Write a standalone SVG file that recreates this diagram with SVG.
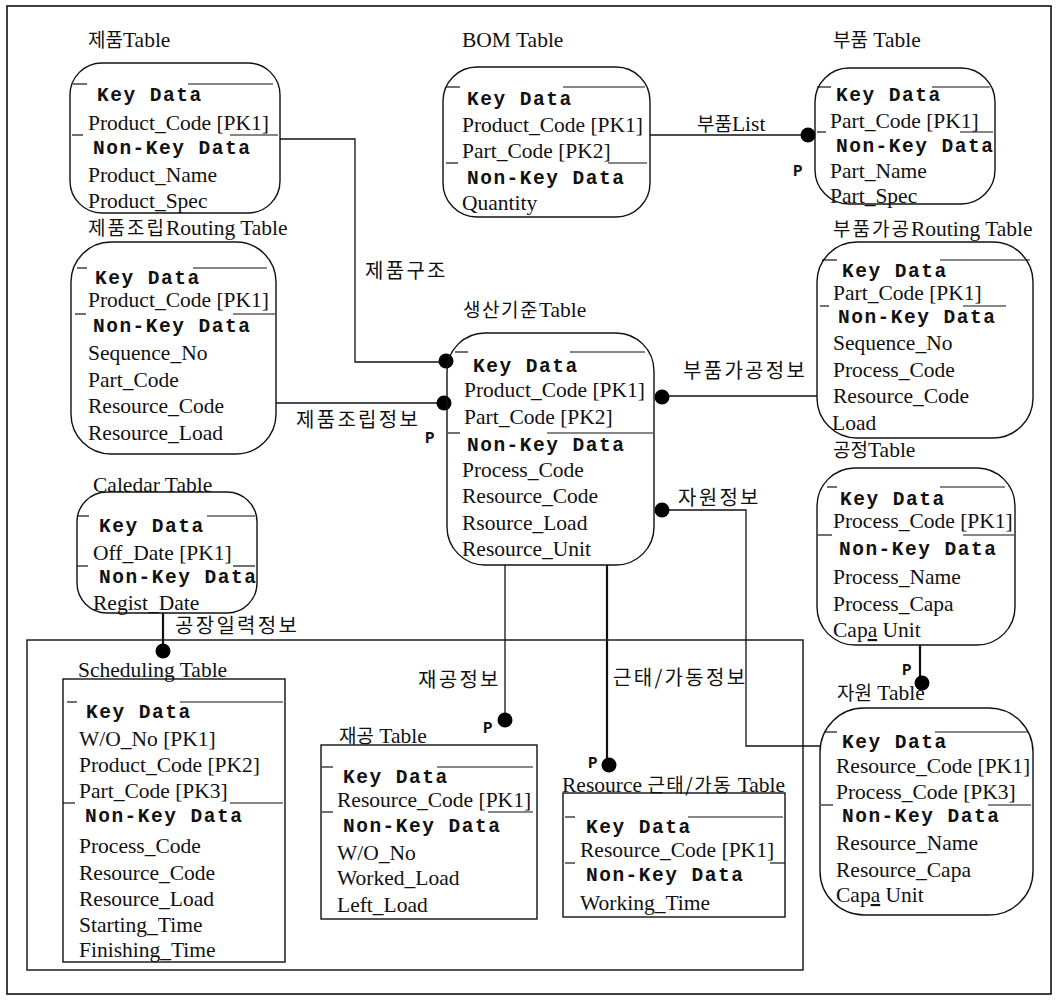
<svg xmlns="http://www.w3.org/2000/svg" width="1059" height="1003" viewBox="0 0 1059 1003">
  <style>
    .frame{fill:none;stroke:#111;stroke-width:1.6}
    .box{fill:none;stroke:#111;stroke-width:1.4}
    .rule{stroke:#111;stroke-width:1.2}
    .t{font-family:"Liberation Serif","Noto Sans CJK KR",serif;font-size:21.5px;fill:#111}
    .k{font-family:"Liberation Mono","Noto Sans CJK KR",monospace;font-weight:bold;font-size:19.5px;letter-spacing:1.5px;fill:#111}
    .ko{font-family:"Noto Sans CJK KR",sans-serif;font-size:19px}
    .lbl{font-family:"Noto Sans CJK KR",sans-serif;font-size:20px;letter-spacing:2.3px;fill:#111}
    .p{font-family:"Liberation Mono",monospace;font-weight:bold;font-size:16px;fill:#111}
    .wire{fill:none;stroke:#111;stroke-width:1.3}
    .wire2{fill:none;stroke:#111;stroke-width:2.2}
    .dot{fill:#000}
    .ul{text-decoration:underline}
  </style>

  <!-- page border -->
  <rect class="frame" x="7" y="6" width="1044" height="988"/>

  <!-- scheduling area boundary -->
  <g id="scheduling-area">
    <rect class="box" x="27" y="640" width="776" height="330"/>
  </g>

  <!-- connectors -->
  <g id="connectors">
    <!-- 제품구조 -->
    <polyline class="wire" points="280,139 355,139 355,362 447,362"/>
    <circle class="dot" cx="446" cy="361" r="7.5"/>
    <text class="lbl" x="365" y="278">제품구조</text>

    <!-- 제품조립정보 -->
    <line class="wire" x1="276" y1="403" x2="444" y2="403"/>
    <circle class="dot" cx="444" cy="403" r="7.5"/>
    <text class="lbl" x="296" y="427">제품조립정보</text>
    <text class="p" x="425" y="443">P</text>

    <!-- 부품List -->
    <line class="wire" x1="650" y1="135" x2="808" y2="135"/>
    <circle class="dot" cx="808" cy="135" r="7.5"/>
    <text class="t" x="697" y="131"><tspan class="ko">부품</tspan>List</text>
    <text class="p" x="793" y="176">P</text>

    <!-- 부품가공정보 -->
    <line class="wire" x1="662" y1="396" x2="817" y2="396"/>
    <circle class="dot" cx="662" cy="397" r="7.5"/>
    <text class="lbl" x="683" y="378">부품가공정보</text>

    <!-- 자원정보 -->
    <polyline class="wire" points="662,510 746,510 746,746 820,746"/>
    <circle class="dot" cx="662" cy="510" r="7.5"/>
    <text class="lbl" x="678" y="505">자원정보</text>

    <!-- 재공정보 -->
    <line class="wire" x1="505" y1="565" x2="505" y2="720"/>
    <circle class="dot" cx="505" cy="720" r="7.5"/>
    <text class="lbl" x="418" y="687">재공정보</text>
    <text class="p" x="483" y="733">P</text>

    <!-- 근태/가동정보 -->
    <line class="wire2" x1="607" y1="565" x2="607" y2="765"/>
    <circle class="dot" cx="609" cy="765" r="7.5"/>
    <text class="lbl" x="613" y="685">근태/가동정보</text>
    <text class="p" x="588" y="768">P</text>

    <!-- 공정 to 자원 -->
    <line class="wire2" x1="920" y1="645" x2="920" y2="683"/>
    <text class="p" x="902" y="675">P</text>
    <circle class="dot" cx="922" cy="683" r="7.5"/>

    <!-- 공장일력정보 -->
    <line class="wire2" x1="163" y1="613" x2="163" y2="651"/>
    <circle class="dot" cx="163" cy="651" r="7.5"/>
    <text class="lbl" x="175" y="633">공장일력정보</text>
  </g>

  <!-- 제품Table -->
  <g id="product-table">
    <text class="t" x="88" y="47"><tspan class="ko">제품</tspan>Table</text>
    <rect class="box" x="70" y="63" width="210" height="150" rx="32"/>
    <line class="rule" x1="73" y1="84" x2="87" y2="84"/>
    <line class="rule" x1="188" y1="84" x2="273" y2="84"/>
    <line class="rule" x1="72" y1="135" x2="83" y2="135"/>
    <line class="rule" x1="230" y1="135" x2="278" y2="135"/>
    <text class="k" x="97" y="101">Key Data</text>
    <text class="t" x="88" y="130">Product_Code [PK1]</text>
    <text class="k" x="93" y="154">Non-Key Data</text>
    <text class="t" x="88" y="182">Product_Name</text>
    <text class="t" x="88" y="208">Product_Spec</text>
  </g>

  <!-- BOM Table -->
  <g id="bom-table">
    <text class="t" x="462" y="47">BOM Table</text>
    <rect class="box" x="443" y="67" width="207" height="150" rx="34"/>
    <line class="rule" x1="446" y1="87" x2="460" y2="87"/>
    <line class="rule" x1="563" y1="87" x2="645" y2="87"/>
    <line class="rule" x1="446" y1="163" x2="458" y2="163"/>
    <line class="rule" x1="608" y1="163" x2="647" y2="163"/>
    <text class="k" x="467" y="105">Key Data</text>
    <text class="t" x="462" y="132">Product_Code [PK1]</text>
    <text class="t" x="462" y="158">Part_Code [PK2]</text>
    <text class="k" x="467" y="184">Non-Key Data</text>
    <text class="t" x="462" y="210">Quantity</text>
  </g>

  <!-- 부품 Table -->
  <g id="part-table">
    <text class="t" x="833" y="47"><tspan class="ko">부품</tspan> Table</text>
    <rect class="box" x="815" y="68" width="180" height="136" rx="34"/>
    <line class="rule" x1="817" y1="87" x2="831" y2="87"/>
    <line class="rule" x1="932" y1="87" x2="990" y2="87"/>
    <line class="rule" x1="817" y1="132" x2="826" y2="132"/>
    <line class="rule" x1="960" y1="132" x2="993" y2="132"/>
    <text class="k" x="836" y="101">Key Data</text>
    <text class="t" x="830" y="128">Part_Code [PK1]</text>
    <text class="k" x="836" y="152">Non-Key Data</text>
    <text class="t" x="830" y="178">Part_Name</text>
    <text class="t" x="830" y="203">Part_Spec</text>
  </g>

  <!-- 제품조립Routing Table -->
  <g id="assembly-routing-table">
    <text class="t" x="88" y="235"><tspan class="ko" letter-spacing="2">제품조립</tspan>Routing Table</text>
    <rect class="box" x="71" y="242" width="205" height="212" rx="40"/>
    <line class="rule" x1="77" y1="268" x2="87" y2="268"/>
    <line class="rule" x1="193" y1="268" x2="267" y2="268"/>
    <line class="rule" x1="75" y1="314" x2="86" y2="314"/>
    <line class="rule" x1="233" y1="314" x2="275" y2="314"/>
    <text class="k" x="95" y="284">Key Data</text>
    <text class="t" x="88" y="307">Product_Code [PK1]</text>
    <text class="k" x="93" y="332">Non-Key Data</text>
    <text class="t" x="88" y="360">Sequence_No</text>
    <text class="t" x="88" y="387">Part_Code</text>
    <text class="t" x="88" y="413">Resource_Code</text>
    <text class="t" x="88" y="440">Resource_Load</text>
  </g>

  <!-- 생산기준Table -->
  <g id="standard-table">
    <text class="t" x="463" y="317"><tspan class="ko" letter-spacing="1.5">생산기준</tspan>Table</text>
    <rect class="box" x="447" y="333" width="207" height="232" rx="38"/>
    <line class="rule" x1="455" y1="352" x2="468" y2="352"/>
    <line class="rule" x1="570" y1="352" x2="645" y2="352"/>
    <line class="rule" x1="448" y1="433" x2="460" y2="433"/>
    <line class="rule" x1="547" y1="433" x2="653" y2="433"/>
    <text class="k" x="473" y="372">Key Data</text>
    <text class="t" x="464" y="397">Product_Code [PK1]</text>
    <text class="t" x="464" y="424">Part_Code [PK2]</text>
    <text class="k" x="467" y="451">Non-Key Data</text>
    <text class="t" x="462" y="477">Process_Code</text>
    <text class="t" x="462" y="503">Resource_Code</text>
    <text class="t" x="462" y="530">Rsource_Load</text>
    <text class="t" x="462" y="556">Resource_Unit</text>
  </g>

  <!-- 부품가공Routing Table -->
  <g id="part-routing-table">
    <text class="t" x="833" y="236"><tspan class="ko" letter-spacing="2">부품가공</tspan>Routing Table</text>
    <rect class="box" x="817" y="242" width="216" height="196" rx="40"/>
    <line class="rule" x1="822" y1="260" x2="837" y2="260"/>
    <line class="rule" x1="940" y1="260" x2="1030" y2="260"/>
    <line class="rule" x1="820" y1="306" x2="829" y2="306"/>
    <line class="rule" x1="963" y1="306" x2="1006" y2="306"/>
    <text class="k" x="842" y="277">Key Data</text>
    <text class="t" x="833" y="300">Part_Code [PK1]</text>
    <text class="k" x="838" y="323">Non-Key Data</text>
    <text class="t" x="833" y="350">Sequence_No</text>
    <text class="t" x="833" y="377">Process_Code</text>
    <text class="t" x="833" y="403">Resource_Code</text>
    <text class="t" x="832" y="430">Load</text>
  </g>

  <!-- 공정Table -->
  <g id="process-table">
    <text class="t" x="833" y="457"><tspan class="ko">공정</tspan>Table</text>
    <rect class="box" x="817" y="468" width="198" height="177" rx="38"/>
    <line class="rule" x1="827" y1="487" x2="837" y2="487"/>
    <line class="rule" x1="940" y1="487" x2="1005" y2="487"/>
    <line class="rule" x1="818" y1="535" x2="832" y2="535"/>
    <line class="rule" x1="963" y1="535" x2="1014" y2="535"/>
    <text class="k" x="840" y="505">Key Data</text>
    <text class="t" x="833" y="528">Process_Code [PK1]</text>
    <text class="k" x="839" y="555">Non-Key Data</text>
    <text class="t" x="833" y="584">Process_Name</text>
    <text class="t" x="833" y="611">Process_Capa</text>
    <text class="t" x="833" y="637">Cap<tspan class="ul">a</tspan> Unit</text>
  </g>

  <!-- 자원 Table -->
  <g id="resource-table">
    <text class="t" x="837" y="700"><tspan class="ko">자원</tspan> Table</text>
    <rect class="box" x="820" y="708" width="213" height="207" rx="44"/>
    <line class="rule" x1="825" y1="732" x2="837" y2="732"/>
    <line class="rule" x1="935" y1="732" x2="1028" y2="732"/>
    <line class="rule" x1="821" y1="805" x2="833" y2="805"/>
    <line class="rule" x1="988" y1="805" x2="1031" y2="805"/>
    <text class="k" x="842" y="748">Key Data</text>
    <text class="t" x="836" y="773">Resource_Code [PK1]</text>
    <text class="t" x="836" y="799">Process_Code [PK3]</text>
    <text class="k" x="842" y="822">Non-Key Data</text>
    <text class="t" x="836" y="850">Resource_Name</text>
    <text class="t" x="836" y="877">Resource_Capa</text>
    <text class="t" x="836" y="902">Cap<tspan class="ul">a</tspan> Unit</text>
  </g>

  <!-- Caledar Table -->
  <g id="calendar-table">
    <text class="t" x="93" y="492">Caledar Table</text>
    <rect class="box" x="77" y="492" width="180" height="121" rx="30"/>
    <line class="rule" x1="78" y1="516" x2="89" y2="516"/>
    <line class="rule" x1="207" y1="516" x2="255" y2="516"/>
    <line class="rule" x1="77" y1="566" x2="88" y2="566"/>
    <line class="rule" x1="233" y1="566" x2="255" y2="566"/>
    <text class="k" x="99" y="532">Key Data</text>
    <text class="t" x="93" y="560">Off_Date [PK1]</text>
    <text class="k" x="99" y="583">Non-Key Data</text>
    <text class="t" x="93" y="610">Regist_Date</text>
  </g>

  <!-- Scheduling Table -->
  <g id="scheduling-table">
    <text class="t" x="78" y="677">Scheduling Table</text>
    <rect class="box" x="63" y="679" width="222" height="283"/>
    <line class="rule" x1="67" y1="702" x2="77" y2="702"/>
    <line class="rule" x1="180" y1="702" x2="283" y2="702"/>
    <line class="rule" x1="63" y1="803" x2="75" y2="803"/>
    <line class="rule" x1="230" y1="803" x2="283" y2="803"/>
    <text class="k" x="86" y="718">Key Data</text>
    <text class="t" x="79" y="746">W/O_No [PK1]</text>
    <text class="t" x="79" y="772">Product_Code [PK2]</text>
    <text class="t" x="79" y="798">Part_Code [PK3]</text>
    <text class="k" x="85" y="822">Non-Key Data</text>
    <text class="t" x="79" y="853">Process_Code</text>
    <text class="t" x="79" y="880">Resource_Code</text>
    <text class="t" x="79" y="906">Resource_Load</text>
    <text class="t" x="79" y="932">Starting_Time</text>
    <text class="t" x="79" y="957">Finishing_Time</text>
  </g>

  <!-- 재공 Table -->
  <g id="wip-table">
    <text class="t" x="339" y="743"><tspan class="ko">재공</tspan> Table</text>
    <rect class="box" x="321" y="745" width="216" height="174"/>
    <line class="rule" x1="322" y1="767" x2="333" y2="767"/>
    <line class="rule" x1="437" y1="767" x2="533" y2="767"/>
    <line class="rule" x1="322" y1="812" x2="333" y2="812"/>
    <line class="rule" x1="488" y1="812" x2="533" y2="812"/>
    <text class="k" x="343" y="783">Key Data</text>
    <text class="t" x="337" y="807">Resource_Code [PK1]</text>
    <text class="k" x="343" y="832">Non-Key Data</text>
    <text class="t" x="337" y="860">W/O_No</text>
    <text class="t" x="337" y="885">Worked_Load</text>
    <text class="t" x="337" y="912">Left_Load</text>
  </g>

  <!-- Resource 근태/가동 Table -->
  <g id="attendance-table">
    <text class="t" x="562" y="792">Resource <tspan class="ko" letter-spacing="1.5">근태/가동</tspan> Table</text>
    <rect class="box" x="563" y="793" width="222" height="124"/>
    <line class="rule" x1="565" y1="817" x2="575" y2="817"/>
    <line class="rule" x1="688" y1="817" x2="783" y2="817"/>
    <line class="rule" x1="565" y1="863" x2="575" y2="863"/>
    <line class="rule" x1="770" y1="863" x2="785" y2="863"/>
    <text class="k" x="586" y="833">Key Data</text>
    <text class="t" x="580" y="857">Resource_Code [PK1]</text>
    <text class="k" x="586" y="881">Non-Key Data</text>
    <text class="t" x="580" y="910">Working_Time</text>
  </g>
</svg>
